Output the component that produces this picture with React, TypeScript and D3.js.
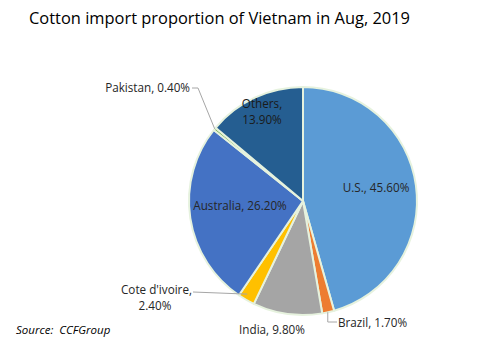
import React from "react";
import * as d3 from "d3";

const categories = ["U.S.", "Brazil", "India", "Cote d'ivoire", "Australia", "Pakistan", "Others"];
const values = [45.6, 1.7, 9.8, 2.4, 26.2, 0.4, 13.9];
const colors = ["#5B9BD5", "#ED7D31", "#A5A5A5", "#FFC000", "#4472C4", "#70AD47", "#255E91"];
const title = "Cotton import proportion of Vietnam in Aug, 2019";
const source = "Source:  CCFGroup";

const W = 490, H = 355;
const cx = 303, cy = 201, R = 114;

export default function App() {
  const pie = d3.pie<number>().sort(null).value((d) => d);
  const arcs = pie(values);
  const arc = d3.arc<d3.PieArcDatum<number>>().innerRadius(0).outerRadius(R);
  const fmt = (v: number) => v.toFixed(2) + "%";
  const font = "'Open Sans', 'Noto Sans', sans-serif";
  const fs = 11.7;

  const rim = (i: number, f = 0.5, r = R) => {
    const a = arcs[i].startAngle + (arcs[i].endAngle - arcs[i].startAngle) * f;
    return [cx + r * Math.sin(a), cy - r * Math.cos(a)];
  };
  const pk = rim(5);
  const cd = rim(3, 0.5, R - 2);
  const bz = rim(1, 0.5, R - 2);

  return (
    <svg width={W} height={H} style={{ position: "absolute", left: 0, top: 0, background: "#fff" }}>
      <text x={29} y={24} fontFamily={font} fontSize={16} fill="#000" textLength={381} lengthAdjust="spacingAndGlyphs">{title}</text>
      <g transform={`translate(${cx},${cy})`}>
        {arcs.map((a, i) => (
          <path key={categories[i]} d={arc(a) || ""} fill={colors[i]} stroke="#E6F2DE" strokeWidth={2} strokeLinejoin="round" />
        ))}
      </g>
      <polyline points={`192,88 198,88 ${pk[0]},${pk[1]}`} fill="none" stroke="#A6A6A6" strokeWidth={1} />
      <polyline points={`193,292 ${cd[0]},${cd[1] - 4}`} fill="none" stroke="#A6A6A6" strokeWidth={1} />
      <polyline points={`${bz[0]},${bz[1] + 2} ${bz[0]},322 337,322`} fill="none" stroke="#A6A6A6" strokeWidth={1} />

      <g fontFamily={font} fontSize={fs} fill="#262626" style={{ whiteSpace: "pre" }}>
        <text x={190} y={92} textAnchor="end">{`${categories[5]}, ${fmt(values[5])}`}</text>
        <text x={262} y={108} textAnchor="middle" fill="#1a1a1a">{`${categories[6]},`}</text>
        <text x={262} y={124} textAnchor="middle" fill="#1a1a1a">{fmt(values[6])}</text>
        <text x={376} y={192} textAnchor="middle">{`${categories[0]},  ${fmt(values[0])}`}</text>
        <text x={240} y={210} textAnchor="middle">{`${categories[4]}, ${fmt(values[4])}`}</text>
        <text x={192} y={294} textAnchor="end">{`${categories[3]},`}</text>
        <text x={155} y={310} textAnchor="middle">{fmt(values[3])}</text>
        <text x={272} y={334} textAnchor="middle">{`${categories[2]}, ${fmt(values[2])}`}</text>
        <text x={338} y={327}>{`${categories[1]}, ${fmt(values[1])}`}</text>
      </g>
      <text x={16} y={334} fontFamily={font} fontSize={11.5} fontStyle="italic" fill="#000" style={{ whiteSpace: "pre" }}>{source}</text>
    </svg>
  );
}
